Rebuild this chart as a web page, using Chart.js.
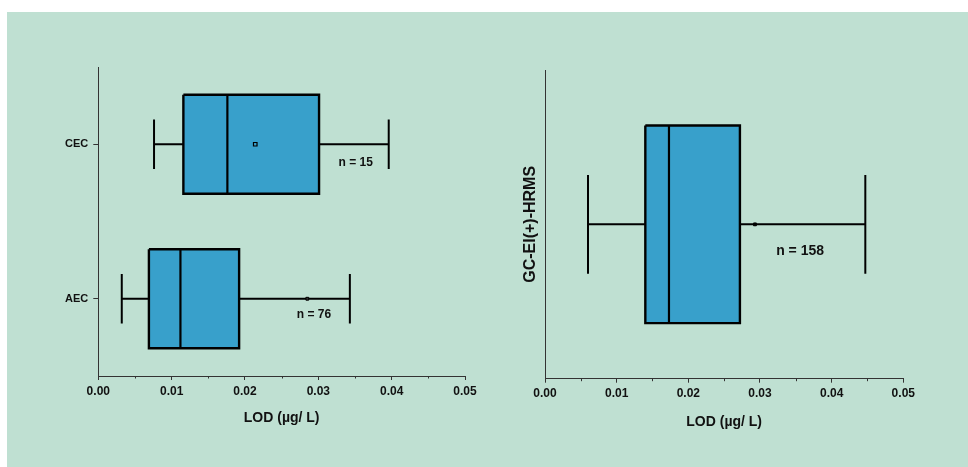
<!DOCTYPE html>
<html>
<head>
<meta charset="utf-8">
<script src="https://cdn.jsdelivr.net/npm/chart.js@4/dist/chart.umd.min.js"></script>
<style>
  html, body { margin: 0; padding: 0; background: #ffffff; width: 968px; height: 467px; overflow: hidden; }
  #panel { position: absolute; left: 7px; top: 12px; width: 961px; height: 455px; background: #bfe0d2; }
  canvas { position: absolute; top: 0; }
  #leftChart { left: 0; }
  #rightChart { left: 484px; }
</style>
</head>
<body>
<div id="panel"></div>
<canvas id="leftChart" width="484" height="467"></canvas>
<canvas id="rightChart" width="484" height="467"></canvas>
<script>
// LOD distributions (µg/L) per technique
const leftCategories = ['CEC', 'AEC'];
const leftMin    = [0.0076, 0.0032];
const leftQ1     = [0.0116, 0.0069];
const leftMedian = [0.0176, 0.0112];
const leftQ3     = [0.0301, 0.0192];
const leftMax    = [0.0396, 0.0343];
const leftMean   = [0.0214, 0.0285];
const leftCounts = [15, 76];

const rightCategories = ['GC-EI(+)-HRMS'];
const rightMin    = [0.0060];
const rightQ1     = [0.0140];
const rightMedian = [0.0173];
const rightQ3     = [0.0272];
const rightMax    = [0.0447];
const rightMean   = [0.0293];
const rightCounts = [158];

const xTicks = [0, 0.01, 0.02, 0.03, 0.04, 0.05];
const xMinorTicks = [0.005, 0.015, 0.025, 0.035, 0.045];

const FONT = '"Liberation Sans", Arial, sans-serif';
const BOX_FILL = '#38a0cb';
const INK = '#000000';
const AXIS = '#333333';
const TEXT = '#111111';
const BOX_HALF = 0.32;   // half box thickness in category units
const CAP_HALF = 0.16;   // half whisker-cap length

function segment(points, width) {
  return { data: points, showLine: true, borderColor: INK, borderWidth: width || 2,
           pointRadius: 0, fill: false, borderCapStyle: 'butt' };
}

// Box-and-whisker elements, pushed top-most first (dataset 0 is painted last)
function boxDatasets(mins, q1s, meds, q3s, maxs, means, meanStyles) {
  const ds = [];
  mins.forEach((_, i) => {
    const y = i + 1;
    const ms = meanStyles[i];
    ds.push({ data: [{ x: means[i], y }], showLine: false, pointStyle: 'rect',
              pointRadius: ms.radius, backgroundColor: ms.fill, borderColor: INK,
              borderWidth: ms.border });
    ds.push(segment([{ x: meds[i], y: y - BOX_HALF }, { x: meds[i], y: y + BOX_HALF }], 2.2));
    ds.push({ data: [
                { x: q1s[i], y: y - BOX_HALF }, { x: q3s[i], y: y - BOX_HALF },
                { x: q3s[i], y: y + BOX_HALF }, { x: q1s[i], y: y + BOX_HALF },
                { x: q1s[i], y: y - BOX_HALF } ],
              showLine: true, fill: 'shape', backgroundColor: BOX_FILL,
              borderColor: INK, borderWidth: 2.4, borderJoinStyle: 'miter', pointRadius: 0 });
    ds.push(segment([{ x: mins[i], y: y - CAP_HALF }, { x: mins[i], y: y + CAP_HALF }]));
    ds.push(segment([{ x: maxs[i], y: y - CAP_HALF }, { x: maxs[i], y: y + CAP_HALF }]));
    ds.push(segment([{ x: mins[i], y }, { x: q1s[i], y }]));
    ds.push(segment([{ x: q3s[i], y }, { x: maxs[i], y }]));
  });
  return ds;
}

// Small intermediate ticks on the value axis
const minorTicks = {
  id: 'minorTicks',
  afterDraw(chart) {
    const s = chart.scales.x;
    const ctx = chart.ctx;
    ctx.save();
    ctx.strokeStyle = AXIS;
    ctx.lineWidth = 1;
    xMinorTicks.forEach(v => {
      const px = Math.round(s.getPixelForValue(v)) + 0.5;
      ctx.beginPath();
      ctx.moveTo(px, s.top);
      ctx.lineTo(px, s.top + 2.5);
      ctx.stroke();
    });
    ctx.restore();
  }
};

// Sample-size annotations
const countLabels = {
  id: 'countLabels',
  afterDatasetsDraw(chart, args, opts) {
    const ctx = chart.ctx;
    ctx.save();
    ctx.font = opts.font;
    ctx.fillStyle = TEXT;
    ctx.textAlign = 'center';
    ctx.textBaseline = 'middle';
    opts.items.forEach(it => {
      ctx.fillText('n = ' + it.n, chart.scales.x.getPixelForValue(it.x),
                   chart.scales.y.getPixelForValue(it.y));
    });
    ctx.restore();
  }
};

function xScale(titlePadBottom) {
  return {
    type: 'linear', min: 0, max: 0.05,
    afterBuildTicks(s) { s.ticks = xTicks.map(v => ({ value: v })); },
    ticks: { callback: v => v.toFixed(2), font: { family: FONT, size: 12, weight: 'bold' },
             color: TEXT, padding: 4, maxRotation: 0, autoSkip: false },
    grid: { drawOnChartArea: false, drawTicks: true, tickLength: 4, color: AXIS, lineWidth: 1 },
    border: { color: AXIS, width: 1 },
    title: { display: true, text: 'LOD (µg/ L)', color: TEXT,
             font: { family: FONT, size: 14, weight: 'bold' },
             padding: { top: 0, bottom: titlePadBottom } },
    afterFit(s) { s.height = 60; }
  };
}

const common = {
  responsive: false,
  animation: false,
  events: [],
  plugins: { legend: { display: false }, tooltip: { enabled: false } }
};

new Chart(document.getElementById('leftChart'), {
  type: 'scatter',
  data: { datasets: boxDatasets(leftMin, leftQ1, leftMedian, leftQ3, leftMax, leftMean, [
    { radius: 2.5, fill: BOX_FILL, border: 1.2 },
    { radius: 2, fill: '#333333', border: 1 }
  ]) },
  options: Object.assign({}, common, {
    layout: { padding: { left: 38.3, right: 19, top: 67, bottom: 31 } },
    scales: {
      x: xScale(9.6),
      y: {
        type: 'linear', min: 0.5, max: 2.5, reverse: true,
        afterBuildTicks(s) { s.ticks = leftCategories.map((_, i) => ({ value: i + 1 })); },
        ticks: { callback: v => leftCategories[v - 1], font: { family: FONT, size: 11, weight: 'bold' },
                 color: TEXT, padding: 5 },
        grid: { drawOnChartArea: false, drawTicks: true, tickLength: 5, color: AXIS },
        border: { color: AXIS, width: 1 },
        afterFit(s) { s.width = 60; }
      }
    },
    plugins: Object.assign({}, common.plugins, {
      countLabels: { font: 'bold 12px ' + FONT, items: [
        { n: leftCounts[0], x: 0.0351, y: 1.118 },
        { n: leftCounts[1], x: 0.0294, y: 2.104 }
      ] }
    })
  }),
  plugins: [minorTicks, countLabels]
});

new Chart(document.getElementById('rightChart'), {
  type: 'scatter',
  data: { datasets: boxDatasets(rightMin, rightQ1, rightMedian, rightQ3, rightMax, rightMean, [
    { radius: 2, fill: INK, border: 1 }
  ]) },
  options: Object.assign({}, common, {
    layout: { padding: { left: 37, right: 64.7, top: 70, bottom: 28.3 } },
    scales: {
      x: xScale(8.6),
      y: {
        type: 'linear', min: 0.5, max: 1.5, reverse: true,
        ticks: { display: false },
        grid: { drawOnChartArea: false, drawTicks: false },
        border: { color: AXIS, width: 1 },
        title: { display: true, text: rightCategories[0], color: TEXT,
                 font: { family: FONT, size: 16, weight: 'bold' }, padding: 0 },
        afterFit(s) { s.width = 24; }
      }
    },
    plugins: Object.assign({}, common.plugins, {
      countLabels: { font: 'bold 14px ' + FONT, items: [
        { n: rightCounts[0], x: 0.0356, y: 1.088 }
      ] }
    })
  }),
  plugins: [minorTicks, countLabels]
});
</script>
</body>
</html>
